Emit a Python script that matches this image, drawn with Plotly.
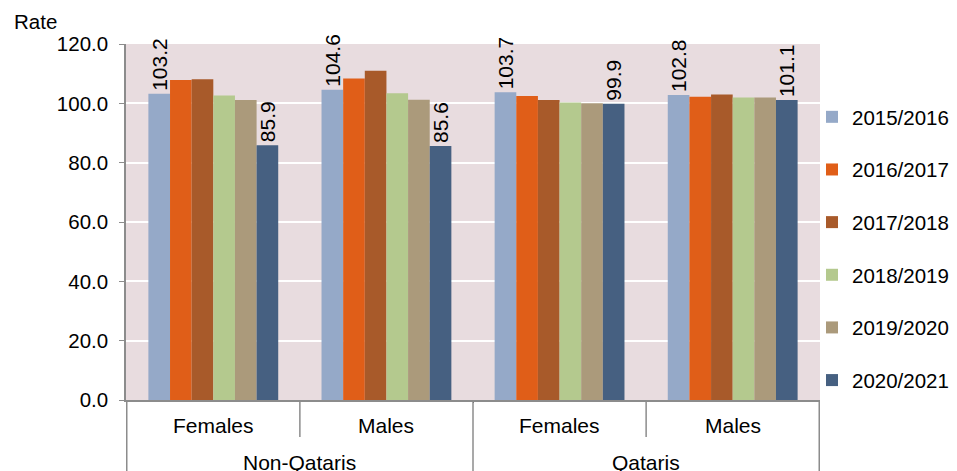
import plotly.graph_objects as go

# Grouping: nationality (outer) and sex (inner)
nationality = ["Non-Qataris", "Non-Qataris", "Qataris", "Qataris"]
sex = ["Females", "Males", "Females", "Males"]

years = ["2015/2016", "2016/2017", "2017/2018", "2018/2019", "2019/2020", "2020/2021"]
colors = ["#95A9C8", "#E05E18", "#A85A2A", "#B4C98E", "#AB9A7B", "#466081"]

rate_2015 = [103.2, 104.6, 103.7, 102.8]
rate_2016 = [107.9, 108.4, 102.5, 102.2]
rate_2017 = [108.1, 111.0, 101.1, 103.0]
rate_2018 = [102.6, 103.4, 100.3, 102.0]
rate_2019 = [101.1, 101.2, 100.0, 102.0]
rate_2020 = [85.9, 85.6, 99.9, 101.1]

series = [rate_2015, rate_2016, rate_2017, rate_2018, rate_2019, rate_2020]
labelled = {0, 5}  # only first and last year carry value labels

FONT = "Arial, Liberation Sans, sans-serif"
AXIS_GREY = "#8C8C8C"

# plot area geometry in px (used to convert offsets to paper units)
L, R, T, B = 126, 137, 44, 71
PW, PH = 957 - L - R, 471 - T - B

fig = go.Figure()
for i, (name, vals, col) in enumerate(zip(years, series, colors)):
    fig.add_trace(go.Bar(
        x=[nationality, sex],
        y=vals,
        name=name,
        legendgroup=name,
        marker=dict(color=col, line=dict(width=0)),
        text=[f"{v:.1f}" for v in vals] if i in labelled else None,
        textposition="outside" if i in labelled else "none",
        textangle=-90,
        textfont=dict(size=21, color="#000000", family=FONT),
        constraintext="none",
        cliponaxis=False,
    ))

fig.update_layout(
    width=957, height=471,
    margin=dict(l=L, r=R, t=T, b=B, autoexpand=False),
    paper_bgcolor="white",
    plot_bgcolor="#E8DCDF",
    barmode="group",
    bargap=0.25,
    bargroupgap=0,
    font=dict(family=FONT, size=21, color="#000000"),
    showlegend=True,
    legend=dict(
        x=1.0 - 8 / PW, xanchor="left",
        y=1.0 - (97 - T) / PH, yanchor="top",
        font=dict(size=20.5, family=FONT),
        tracegroupgap=23,
        itemwidth=30,
        maxheight=460,
        bgcolor="rgba(0,0,0,0)",
    ),
    xaxis=dict(
        type="multicategory",
        showline=True, linecolor=AXIS_GREY, linewidth=1.5,
        showticklabels=False, ticks="",
    ),
    yaxis=dict(
        range=[0, 120], dtick=20, tickformat=".1f",
        showgrid=True, gridcolor="white", gridwidth=1.5,
        showline=True, linecolor=AXIS_GREY, linewidth=1.5,
        ticks="outside", ticklen=5, tickcolor=AXIS_GREY,
        ticklabelstandoff=7,
        tickfont=dict(size=20.5, family=FONT),
        zeroline=False,
    ),
)

# Category labels under the axis: sex on the first row, nationality below
inner_y = -(425 - (T + PH)) / PH
outer_y = -(462 - (T + PH)) / PH
for idx, s in enumerate(sex):
    fig.add_annotation(text=s, xref="x", yref="paper", x=idx, y=inner_y,
                       xanchor="center", yanchor="middle", showarrow=False,
                       font=dict(size=21, family=FONT, color="#000000"))
for pos, nat in [(0.5, nationality[0]), (2.5, nationality[2])]:
    fig.add_annotation(text=nat, xref="x", yref="paper", x=pos, y=outer_y,
                       xanchor="center", yanchor="middle", showarrow=False,
                       font=dict(size=21, family=FONT, color="#000000"))

# Dividers: long ones between nationalities, short ones between sexes
for xpos in [-0.5, 1.5, 3.5]:
    fig.add_shape(type="line", xref="x", yref="paper",
                  x0=xpos, x1=xpos, y0=0, y1=-B / PH,
                  line=dict(color=AXIS_GREY, width=1.5))
for xpos in [0.5, 2.5]:
    fig.add_shape(type="line", xref="x", yref="paper",
                  x0=xpos, x1=xpos, y0=0, y1=-(437 - (T + PH)) / PH,
                  line=dict(color=AXIS_GREY, width=1.5))

fig.add_annotation(text="Rate", xref="paper", yref="paper",
                   x=(12 - L) / PW, y=1.0 + (T - 21.5) / PH,
                   xanchor="left", yanchor="middle", showarrow=False,
                   font=dict(size=20.5, family=FONT, color="#000000"))

fig.write_html("out.html")
